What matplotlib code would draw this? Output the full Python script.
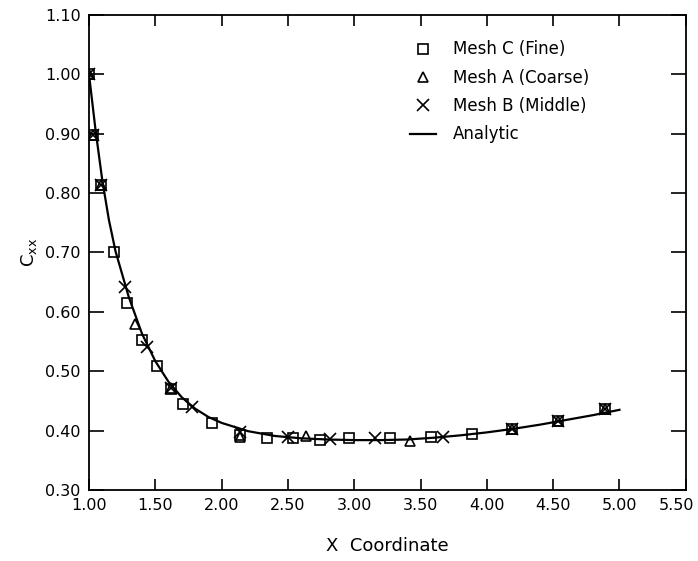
import numpy as np
import matplotlib
matplotlib.use('Agg')
import matplotlib.pyplot as plt
import matplotlib.transforms as mtransforms

# Mesh C (fine) - squares
mesh_c_x = [1.00, 1.03, 1.09, 1.19, 1.29, 1.40, 1.51, 1.62, 1.71, 1.93, 2.14,
            2.34, 2.54, 2.74, 2.96, 3.27, 3.58, 3.89, 4.19, 4.54, 4.89]
mesh_c_y = [1.000, 0.898, 0.813, 0.700, 0.615, 0.553, 0.508, 0.470, 0.445, 0.413, 0.393,
            0.388, 0.387, 0.385, 0.388, 0.388, 0.390, 0.394, 0.402, 0.416, 0.436]

# Mesh A (coarse) - triangles
mesh_a_x = [1.00, 1.03, 1.09, 1.35, 1.62, 2.14, 2.64, 3.42, 4.19, 4.54, 4.89]
mesh_a_y = [1.000, 0.898, 0.813, 0.580, 0.472, 0.390, 0.391, 0.383, 0.402, 0.416, 0.436]

# Mesh B (middle) - crosses
mesh_b_x = [1.00, 1.03, 1.09, 1.27, 1.44, 1.62, 1.78, 2.14, 2.50, 2.82, 3.16, 3.67, 4.19, 4.54, 4.89]
mesh_b_y = [1.000, 0.898, 0.813, 0.642, 0.540, 0.472, 0.440, 0.398, 0.390, 0.386, 0.388, 0.390, 0.402, 0.416, 0.436]

# analytic curve
analytic_x = [1.00, 1.05, 1.10, 1.15, 1.20, 1.30, 1.40, 1.50, 1.60, 1.70, 1.80, 1.90, 2.00,
              2.20, 2.40, 2.60, 2.80, 3.00, 3.20, 3.40, 3.60, 3.80, 4.00, 4.20, 4.40,
              4.60, 4.80, 5.00]
analytic_y = [1.000, 0.905, 0.822, 0.755, 0.702, 0.625, 0.563, 0.517, 0.482, 0.456, 0.437,
              0.423, 0.413, 0.399, 0.391, 0.387, 0.385, 0.384, 0.384, 0.385, 0.388,
              0.392, 0.397, 0.403, 0.410, 0.418, 0.426, 0.435]

x_ticks = [1.0, 1.5, 2.0, 2.5, 3.0, 3.5, 4.0, 4.5, 5.0, 5.5]
y_ticks = [0.3, 0.4, 0.5, 0.6, 0.7, 0.8, 0.9, 1.0, 1.1]

plt.rcParams['font.family'] = 'DejaVu Sans'
fig = plt.figure(figsize=(6.98, 5.61), dpi=100)
ax = fig.add_axes([0.1275, 0.1266, 0.855, 0.8467])

ax.plot(analytic_x, analytic_y, color='black', lw=1.6, label='Analytic', zorder=2)
ax.plot(mesh_c_x, mesh_c_y, ls='none', marker='s', ms=7, mfc='none', mec='black',
        mew=1.2, label='Mesh C (Fine)', zorder=3)
ax.plot(mesh_a_x, mesh_a_y, ls='none', marker='^', ms=7, mfc='none', mec='black',
        mew=1.2, label='Mesh A (Coarse)', zorder=3)
ax.plot(mesh_b_x, mesh_b_y, ls='none', marker='x', ms=8, mec='black',
        mew=1.2, label='Mesh B (Middle)', zorder=3)

ax.set_xlim(1.0, 5.5)
ax.set_ylim(0.3, 1.1)
ax.set_xticks(x_ticks)
ax.set_yticks(y_ticks)
ax.set_xticklabels([f'{v:.2f}' for v in x_ticks])
ax.set_yticklabels([f'{v:.2f}' for v in y_ticks])
ax.tick_params(axis='x', direction='in', length=8, width=1.2, top=True, labelsize=11.5, pad=6)
ax.tick_params(axis='y', direction='in', length=11, width=1.2, right=True, labelsize=11.5, pad=6)
for s in ax.spines.values():
    s.set_linewidth(1.3)

# last x label sits against the figure edge; nudge it left a little
last = ax.get_xticklabels()[-1]
last.set_transform(last.get_transform() + mtransforms.ScaledTranslation(-9 / 100, 0, fig.dpi_scale_trans))

ax.set_xlabel('X  Coordinate', fontsize=13, labelpad=17)
ax.set_ylabel(r'$\mathregular{C_{xx}}$', fontsize=13, labelpad=4)

h, l = ax.get_legend_handles_labels()
order = [1, 2, 3, 0]
ax.legend([h[i] for i in order], [l[i] for i in order], loc='upper left',
          bbox_to_anchor=(0.512, 0.978), frameon=False, fontsize=12,
          handlelength=1.6, handletextpad=1.0, labelspacing=0.62)

fig.savefig('out.png', dpi=100)
